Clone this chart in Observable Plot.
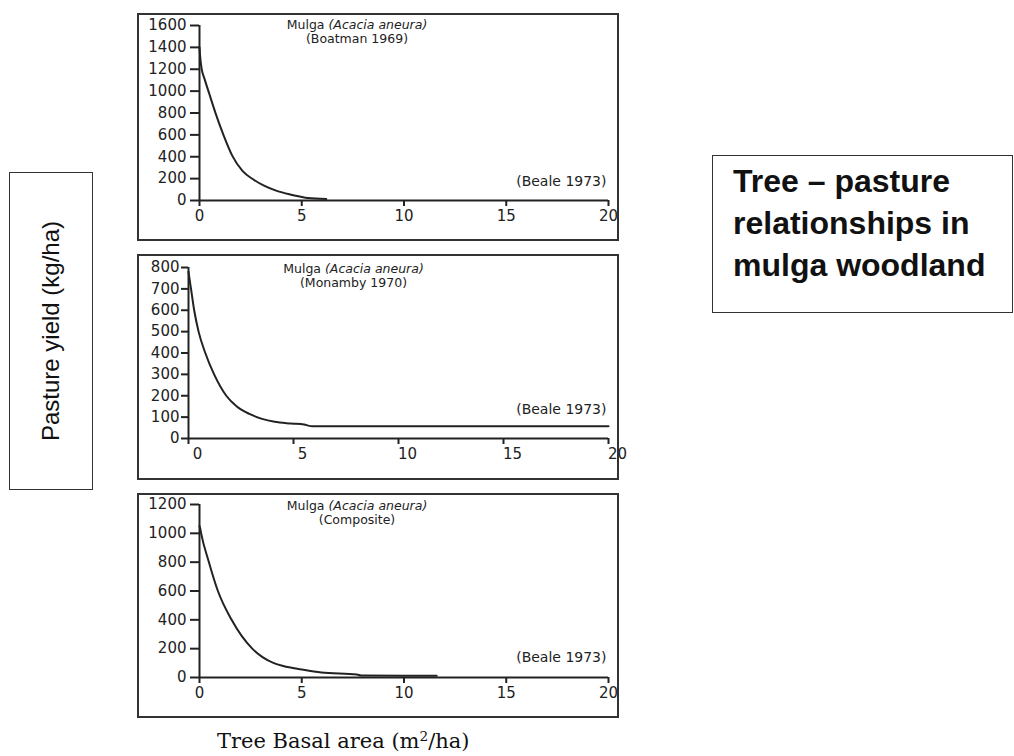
<!DOCTYPE html>
<html>
<head>
<meta charset="utf-8">
<script src="https://cdn.jsdelivr.net/npm/d3@7"></script>
<script src="https://cdn.jsdelivr.net/npm/@observablehq/plot@0.6"></script>
<style>
  html, body { margin: 0; padding: 0; background: #fff; }
  body { width: 1014px; height: 756px; overflow: hidden; position: relative; font-family: "Liberation Sans", Arial, sans-serif; color: #111; }
  .plotbox { position: absolute; }
  .frame { position: absolute; border: 2px solid #333; box-sizing: border-box; pointer-events: none; }
  #ylab { position: absolute; left: 9px; top: 172px; width: 84px; height: 318px; border: 1.5px solid #333; box-sizing: border-box; }
  #ylab span { position: absolute; left: 50%; top: 50%; transform: translate(-50%, -50%) rotate(-90deg); white-space: nowrap; font-size: 24px; }
  #title { position: absolute; left: 712px; top: 155px; width: 301px; height: 158px; border: 1.5px solid #333; box-sizing: border-box; font-weight: bold; font-size: 32px; line-height: 42px; padding: 4px 0 0 20px; }
  #xlab { position: absolute; left: 217px; top: 731px; font-family: "DejaVu Serif", serif; font-size: 21px; line-height: 21px; white-space: nowrap; }
  #xlab sup { font-size: 0.65em; line-height: 0; vertical-align: 0.55em; }
</style>
</head>
<body>
<div id="ylab"><span>Pasture yield (kg/ha)</span></div>
<div id="title">Tree – pasture<br>relationships in<br>mulga woodland</div>
<div id="xlab">Tree Basal area (m<sup>2</sup>/ha)</div>
<script>
// ---- data ----
const xTicks = [0, 5, 10, 15, 20];

const yTicksBoatman = [0, 200, 400, 600, 800, 1000, 1200, 1400, 1600];
const basalBoatman = [0, 0.04, 0.1, 0.25, 0.47, 0.8, 1.17, 1.6, 2.1, 2.65, 3.13, 3.78, 4.43, 4.9, 5.3, 6.2];
const yieldBoatman = [1400, 1300, 1210, 1110, 980, 790, 600, 410, 270, 190, 138, 88, 55, 36, 22, 14];

const yTicksMonamby = [0, 100, 200, 300, 400, 500, 600, 700, 800];
const basalMonamby = [0, 0.05, 0.12, 0.27, 0.48, 0.8, 1.22, 1.8, 2.3, 2.9, 3.5, 4.1, 4.9, 5.5, 5.9, 20];
const yieldMonamby = [780, 745, 700, 600, 500, 400, 300, 200, 150, 115, 92, 78, 70, 65, 57, 57];

const yTicksComposite = [0, 200, 400, 600, 800, 1000, 1200];
const basalComposite = [0, 0.04, 0.08, 0.46, 0.9, 1.57, 2.58, 3.1, 3.64, 4.1, 5.0, 5.96, 7.7, 7.9, 11.6];
const yieldComposite = [1050, 1030, 1000, 800, 600, 400, 200, 140, 100, 80, 56, 35, 21, 14, 12];

const speciesLabel = "Mulga (Acacia aneura)";
const sourceLabels = ["(Boatman 1969)", "(Monamby 1970)", "(Composite)"];
const citeLabel = "(Beale 1973)";

// ---- drawing ----
function makePanel(cfg) {
  const data = cfg.xs.map((x, i) => ({x, y: cfg.ys[i]}));
  const ink = "#222";
  const svg = Plot.plot({
    width: cfg.width,
    height: cfg.height,
    marginLeft: cfg.mL, marginRight: cfg.mR, marginTop: cfg.mT, marginBottom: cfg.mB,
    style: {fontFamily: "DejaVu Sans, sans-serif", fontSize: "15px", color: ink, background: "transparent", overflow: "visible"},
    x: {domain: [0, 20]},
    y: {domain: [0, d3.max(cfg.yTicks)]},
    marks: [
      Plot.axisY({ticks: cfg.yTicks, tickSize: cfg.yTickSize, tickPadding: cfg.yTickPad, label: null, tickFormat: d => String(d), strokeWidth: 2}),
      Plot.axisX({ticks: xTicks, tickSize: 6, tickPadding: 4, label: null, tickFormat: () => "", strokeWidth: 2}),
      Plot.axisX({ticks: xTicks, tickSize: 6, tickPadding: 4, label: null, tickFormat: d => String(d), strokeWidth: 0, dx: cfg.labelDx}),
      Plot.ruleY([0], {stroke: ink, strokeWidth: 2}),
      Plot.ruleX([0], {stroke: ink, strokeWidth: 2}),
      Plot.line(data, {x: "x", y: "y", curve: "monotone-x", stroke: ink, strokeWidth: 2}),
      Plot.text([speciesLabel], {frameAnchor: "top", lineAnchor: "middle", dx: cfg.titleDx, dy: cfg.titleDy, fontSize: 12.5, fill: ink}),
      Plot.text([cfg.source], {frameAnchor: "top", lineAnchor: "middle", dx: cfg.titleDx, dy: cfg.titleDy + 14, fontSize: 12.5, fill: ink}),
      Plot.text([citeLabel], {frameAnchor: "bottom-right", textAnchor: "end", lineAnchor: "middle", dx: -2, dy: cfg.citeDy, fontSize: 14, fill: ink})
    ]
  });
  // italicise the botanical name
  d3.select(svg).selectAll("text").each(function() {
    if (this.textContent === speciesLabel) {
      const i = speciesLabel.indexOf("(");
      this.textContent = "";
      d3.select(this).append("tspan").text(speciesLabel.slice(0, i));
      d3.select(this).append("tspan").attr("font-style", "italic").text(speciesLabel.slice(i));
    }
  });
  const box = document.createElement("div");
  box.className = "plotbox";
  box.style.left = cfg.left + "px";
  box.style.top = cfg.top + "px";
  box.appendChild(svg);
  document.body.appendChild(box);
  const fr = document.createElement("div");
  fr.className = "frame";
  fr.style.left = cfg.left + "px";
  fr.style.top = cfg.top + "px";
  fr.style.width = cfg.width + "px";
  fr.style.height = cfg.height + "px";
  document.body.appendChild(fr);
}

makePanel({left: 137, top: 13, width: 482, height: 228, mL: 62, mR: 11, mT: 12, mB: 41,
  yTicks: yTicksBoatman, xs: basalBoatman, ys: yieldBoatman, source: sourceLabels[0],
  yTickSize: 9, yTickPad: 4, labelDx: 0, titleDx: -47, titleDy: -1, citeDy: -19});
makePanel({left: 137, top: 254, width: 482, height: 226, mL: 51, mR: 11, mT: 13, mB: 42,
  yTicks: yTicksMonamby, xs: basalMonamby, ys: yieldMonamby, source: sourceLabels[1],
  yTickSize: 7, yTickPad: 2, labelDx: 9, titleDx: -45, titleDy: 1, citeDy: -29});
makePanel({left: 137, top: 493, width: 482, height: 225, mL: 62, mR: 11, mT: 11, mB: 41,
  yTicks: yTicksComposite, xs: basalComposite, ys: yieldComposite, source: sourceLabels[2],
  yTickSize: 9, yTickPad: 4, labelDx: 0, titleDx: -47, titleDy: 1, citeDy: -20});
</script>
</body>
</html>
